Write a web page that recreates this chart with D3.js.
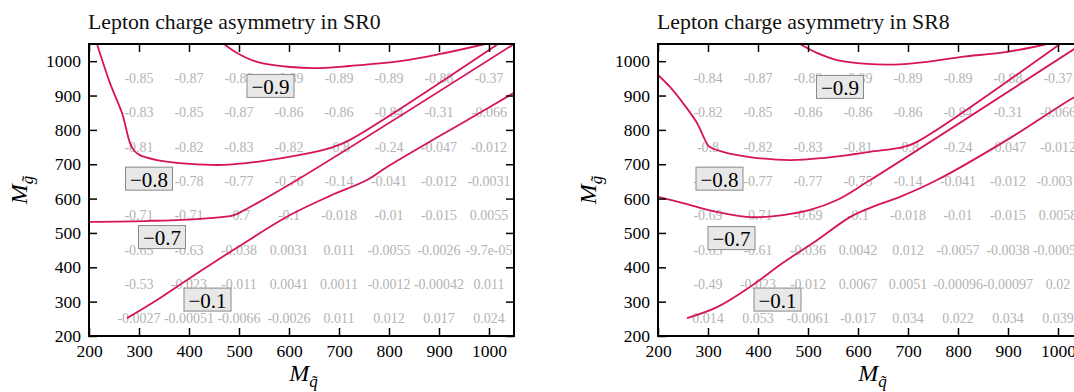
<!DOCTYPE html>
<html>
<head>
<meta charset="utf-8">
<script src="https://cdn.jsdelivr.net/npm/d3@7"></script>
<style>
  body { margin: 0; background: #fff; }
  text { font-family: "Liberation Serif", "Times New Roman", serif; }
</style>
</head>
<body>
<svg id="chart" width="1074" height="392"></svg>
<script>
// axis ticks and grid centres (GeV)
const massTicks = [200, 300, 400, 500, 600, 700, 800, 900, 1000];
const gridX = [300, 400, 500, 600, 700, 800, 900, 1000];
const gridY = [950, 850, 750, 650, 550, 450, 350, 250];

// asymmetry per cell, rows top (950) to bottom (250)
const sr0Values = [
  [-0.85, -0.87, -0.88, -0.89, -0.89, -0.89, -0.88, -0.37],
  [-0.83, -0.85, -0.87, -0.86, -0.86, -0.84, -0.31, -0.066],
  [-0.81, -0.82, -0.83, -0.82, -0.8, -0.24, -0.047, -0.012],
  [-0.79, -0.78, -0.77, -0.76, -0.14, -0.041, -0.012, -0.0031],
  [-0.71, -0.71, -0.7, -0.1, -0.018, -0.01, -0.015, 0.0055],
  [-0.65, -0.63, -0.038, 0.0031, 0.011, -0.0055, -0.0026, -9.7e-05],
  [-0.53, -0.023, -0.011, 0.0041, 0.0011, -0.0012, -0.00042, 0.011],
  [-0.0027, -0.00051, -0.0066, -0.0026, 0.011, 0.012, 0.017, 0.024]
];
const sr8Values = [
  [-0.84, -0.87, -0.89, -0.89, -0.89, -0.89, -0.88, -0.37],
  [-0.82, -0.85, -0.86, -0.86, -0.86, -0.84, -0.31, -0.066],
  [-0.8, -0.82, -0.83, -0.81, -0.8, -0.24, -0.047, -0.012],
  [-0.79, -0.77, -0.77, -0.75, -0.14, -0.041, -0.012, -0.0031],
  [-0.69, -0.71, -0.69, -0.1, -0.018, -0.01, -0.015, 0.0058],
  [-0.65, -0.61, -0.036, 0.0042, 0.012, -0.0057, -0.0038, -0.00053],
  [-0.49, -0.023, -0.012, 0.0067, 0.0051, -0.00096, -0.00097, 0.02],
  [0.014, 0.053, -0.0061, -0.017, 0.034, 0.022, 0.034, 0.039]
];

// contour lines, [squark mass, gluino mass]
const sr0Contours = [
  { level: -0.9, points: [[470, 1050], [496, 1024], [536, 998], [602, 983], [662, 980], [722, 986], [822, 1000], [902, 1021], [992, 1050]] },
  { level: -0.8, points: [[216, 1050], [242, 936], [266, 849], [282, 762], [290, 740], [300, 728], [336, 712], [402, 701], [468, 698], [536, 707], [622, 727], [688, 750], [722, 771], [1018, 1050]] },
  { level: -0.7, points: [[200, 532], [322, 535], [422, 541], [490, 552], [510, 566], [616, 654], [1050, 1050]] },
  { level: -0.1, points: [[276, 252], [336, 305], [402, 369], [498, 459], [602, 552], [682, 608], [756, 654], [796, 692], [888, 771], [968, 838], [1050, 908]] }
];
const sr8Contours = [
  { level: -0.9, points: [[484, 1050], [518, 1024], [558, 1003], [618, 992], [670, 990], [738, 998], [804, 1012], [898, 1027], [978, 1050]] },
  { level: -0.8, points: [[200, 960], [224, 925], [250, 878], [278, 820], [294, 771], [302, 752], [330, 736], [384, 721], [464, 712], [530, 718], [624, 736], [690, 750], [718, 765], [1004, 1050]] },
  { level: -0.7, points: [[200, 605], [250, 587], [318, 561], [384, 546], [450, 552], [504, 567], [558, 596], [618, 648], [1050, 1052]] },
  { level: -0.1, points: [[258, 252], [318, 284], [384, 343], [450, 413], [518, 479], [584, 546], [624, 573], [684, 605], [758, 654], [904, 776], [1030, 893], [1050, 906]] }
];

// contour label positions
const sr0Labels = [
  { text: '\u22120.9', x: 563, y: 928 },
  { text: '\u22120.8', x: 320, y: 658 },
  { text: '\u22120.7', x: 346, y: 488 },
  { text: '\u22120.1', x: 437, y: 306 }
];
const sr8Labels = [
  { text: '\u22120.9', x: 564, y: 925 },
  { text: '\u22120.8', x: 323, y: 658 },
  { text: '\u22120.7', x: 347, y: 485 },
  { text: '\u22120.1', x: 439, y: 306 }
];

const svg = d3.select('#chart');
const plotW = 425;
const plotH = 292;
const lineColor = '#d7135d';

// like printf %.2g
function fmtG(v) {
  if (v !== 0 && Math.abs(v) < 1e-4) {
    let s = v.toExponential(1);
    return s.replace(/e([+-])(\d)$/, 'e$10$2');
  }
  let s = v.toPrecision(2);
  if (s.indexOf('.') >= 0) s = s.replace(/0+$/, '').replace(/\.$/, '');
  return s;
}

function massLabel(sel, sub) {
  sel.append('tspan').attr('font-style', 'italic').text('M');
  sel.append('tspan')
    .attr('font-style', 'italic')
    .attr('font-size', 17)
    .attr('dy', 6)
    .text(sub + '\u0303');
}

function drawPanel(left, id, title, values, contours, labels) {
  const g = svg.append('g').attr('transform', `translate(${left},44)`);
  const x = d3.scaleLinear().domain([200, 1050]).range([0, plotW]);
  const y = d3.scaleLinear().domain([200, 1050]).range([plotH, 0]);

  svg.append('text')
    .attr('x', left - 1)
    .attr('y', 29)
    .attr('font-size', 21.8)
    .attr('fill', '#111')
    .text(title);

  g.append('clipPath').attr('id', 'clip-' + id)
    .append('rect').attr('width', plotW).attr('height', plotH);

  // cell values
  const cells = [];
  values.forEach((row, i) => row.forEach((v, j) => cells.push({ mx: gridX[j], my: gridY[i], v: v })));
  g.append('g')
    .selectAll('text')
    .data(cells)
    .join('text')
    .attr('x', d => x(d.mx))
    .attr('y', d => y(d.my))
    .attr('text-anchor', 'middle')
    .attr('dominant-baseline', 'central')
    .attr('font-size', 14)
    .attr('fill', '#b3b3b3')
    .text(d => fmtG(d.v));

  // contour lines
  const line = d3.line()
    .x(d => x(d[0]))
    .y(d => y(d[1]))
    .curve(d3.curveCatmullRom.alpha(0.5));
  g.append('g')
    .attr('clip-path', `url(#clip-${id})`)
    .selectAll('path')
    .data(contours)
    .join('path')
    .attr('d', d => line(d.points))
    .attr('fill', 'none')
    .attr('stroke', lineColor)
    .attr('stroke-width', 1.8);

  // contour labels
  const lab = g.append('g')
    .selectAll('g')
    .data(labels)
    .join('g')
    .attr('transform', d => `translate(${x(d.x)},${y(d.y)})`);
  lab.append('rect')
    .attr('x', -23.5).attr('y', -11.5)
    .attr('width', 47).attr('height', 23)
    .attr('fill', '#e8e8e8')
    .attr('stroke', '#8a8a8a')
    .attr('stroke-width', 1);
  lab.append('text')
    .attr('text-anchor', 'middle')
    .attr('dominant-baseline', 'central')
    .attr('y', 1)
    .attr('font-size', 21)
    .attr('fill', '#000')
    .text(d => d.text);

  // axes with inward ticks
  const fmt = d3.format('d');
  const axB = g.append('g').attr('transform', `translate(0,${plotH})`)
    .call(d3.axisBottom(x).tickValues(massTicks).tickFormat(fmt).tickSizeInner(-8).tickSizeOuter(0).tickPadding(9));
  const axL = g.append('g')
    .call(d3.axisLeft(y).tickValues(massTicks).tickFormat(fmt).tickSizeInner(-8).tickSizeOuter(0).tickPadding(8));
  const axT = g.append('g')
    .call(d3.axisTop(x).tickValues(massTicks).tickSizeInner(-8).tickSizeOuter(0).tickFormat(''));
  const axR = g.append('g').attr('transform', `translate(${plotW},0)`)
    .call(d3.axisRight(y).tickValues(massTicks).tickSizeInner(-8).tickSizeOuter(0).tickFormat(''));
  [axB, axL, axT, axR].forEach(a => {
    a.select('.domain').remove();
    a.selectAll('line').attr('stroke', '#000').attr('stroke-width', 1.5);
    a.selectAll('text')
      .attr('font-family', '"Liberation Serif", "Times New Roman", serif')
      .attr('font-size', 17.5)
      .attr('fill', '#000');
  });

  g.append('rect')
    .attr('width', plotW).attr('height', plotH)
    .attr('fill', 'none')
    .attr('stroke', '#000')
    .attr('stroke-width', 2);

  // axis titles
  g.append('text')
    .attr('x', plotW / 2 + 2)
    .attr('y', plotH + 45)
    .attr('text-anchor', 'middle')
    .attr('font-size', 24)
    .call(massLabel, 'q');
  g.append('text')
    .attr('transform', `translate(-62,${plotH / 2})rotate(-90)`)
    .attr('text-anchor', 'middle')
    .attr('font-size', 24)
    .call(massLabel, 'g');
}

drawPanel(89, 'sr0', 'Lepton charge asymmetry in SR0', sr0Values, sr0Contours, sr0Labels);
drawPanel(658, 'sr8', 'Lepton charge asymmetry in SR8', sr8Values, sr8Contours, sr8Labels);
</script>
</body>
</html>
